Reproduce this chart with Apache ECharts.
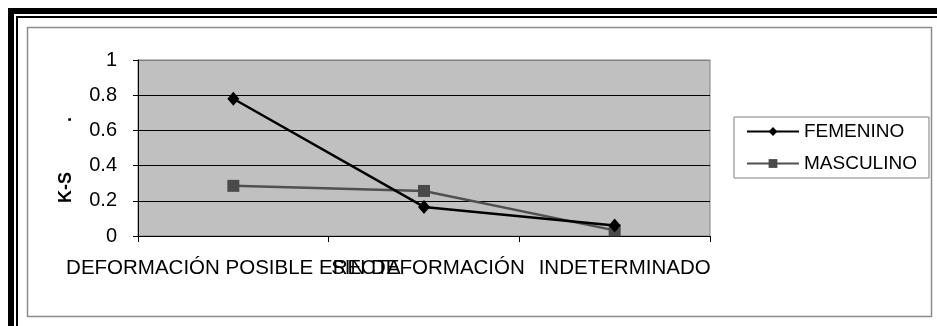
<!DOCTYPE html>
<html>
<head>
<meta charset="utf-8">
<script src="https://cdn.jsdelivr.net/npm/echarts@6/dist/echarts.min.js"></script>
<style>
  html, body { margin: 0; padding: 0; background: #ffffff; }
  #chart { width: 937px; height: 326px; }
</style>
</head>
<body>
<div id="chart"></div>
<script>
// Categories on the x axis
const categories = ['DEFORMACIÓN POSIBLE ERECTA', 'SIN DEFORMACIÓN', 'INDETERMINADO'];
// K-S values per group
const femenino = [0.78, 0.165, 0.06];
const masculino = [0.285, 0.256, 0.032];
// Y axis tick labels, from 0 to 1
const yTickLabels = ['0', '0.2', '0.4', '0.6', '0.8', '1'];
const seriesNames = ['FEMENINO', 'MASCULINO'];
const yAxisTitle = 'K-S          .';

const FONT = '"Liberation Sans", Arial, sans-serif';

// small horizontal nudges for the category labels (left padding, px)
const labelNudge = [0, 8, 20];

const chart = echarts.init(document.getElementById('chart'), null, { renderer: 'canvas' });

chart.setOption({
  animation: false,
  backgroundColor: '#ffffff',
  textStyle: { fontFamily: FONT },
  graphic: [
    // double black frame along the top and left
    { type: 'rect', shape: { x: 8, y: 8, width: 929, height: 6 }, style: { fill: '#000' }, silent: true },
    { type: 'rect', shape: { x: 8, y: 8, width: 6, height: 318 }, style: { fill: '#000' }, silent: true },
    { type: 'rect', shape: { x: 16, y: 16, width: 921, height: 2 }, style: { fill: '#000' }, silent: true },
    { type: 'rect', shape: { x: 16, y: 16, width: 2, height: 310 }, style: { fill: '#000' }, silent: true },
    // chart area border
    { type: 'rect', shape: { x: 27.5, y: 27.5, width: 904, height: 289 },
      style: { fill: 'none', stroke: '#8c8c8c', lineWidth: 1.5 }, silent: true },
    // y axis title
    { type: 'text', x: 66, y: 160, rotation: Math.PI / 2,
      style: { text: yAxisTitle, font: 'bold 18px ' + FONT, fill: '#000',
               align: 'center', verticalAlign: 'middle' }, silent: true }
  ],
  grid: {
    left: 138, right: 227, top: 60, bottom: 90,
    show: true, backgroundColor: '#c0c0c0', borderColor: '#808080', borderWidth: 1
  },
  legend: {
    orient: 'vertical',
    left: 734, top: 117,
    padding: [5, 12, 5, 12],
    itemGap: 13,
    itemWidth: 52, itemHeight: 11,
    borderColor: '#808080', borderWidth: 1,
    backgroundColor: '#ffffff',
    textStyle: { fontSize: 19, color: '#000', fontFamily: FONT },
    data: seriesNames
  },
  xAxis: {
    type: 'category',
    data: categories.map(function (c, i) {
      return { value: c, textStyle: { padding: [0, 0, 0, labelNudge[i]] } };
    }),
    boundaryGap: true,
    axisLine: { show: true, lineStyle: { color: '#000', width: 1 } },
    axisTick: { show: true, length: 6, interval: 0, lineStyle: { color: '#000' } },
    axisLabel: { interval: 0, margin: 22, fontSize: 20.5, color: '#000', fontFamily: FONT },
    splitLine: { show: false }
  },
  yAxis: {
    type: 'value',
    min: 0, max: 1, interval: 0.2,
    axisLine: { show: true, lineStyle: { color: '#000', width: 1 } },
    axisTick: { show: true, length: 5, lineStyle: { color: '#000' } },
    axisLabel: {
      margin: 21, fontSize: 20, color: '#000', fontFamily: FONT,
      formatter: function (v) { return yTickLabels[Math.round(v / 0.2)]; }
    },
    splitLine: { show: true, lineStyle: { color: ['#000', '#000', '#000', '#000', '#000', '#808080'], width: 1 } }
  },
  series: [
    {
      name: seriesNames[0], type: 'line', data: femenino,
      symbol: 'diamond', symbolSize: [12, 14],
      lineStyle: { color: '#000', width: 2.5 },
      itemStyle: { color: '#000' },
      z: 3
    },
    {
      name: seriesNames[1], type: 'line', data: masculino,
      symbol: 'rect', symbolSize: 12,
      lineStyle: { color: '#505050', width: 2.5 },
      itemStyle: { color: '#4a4a4a' },
      z: 2
    }
  ]
});
</script>
</body>
</html>
